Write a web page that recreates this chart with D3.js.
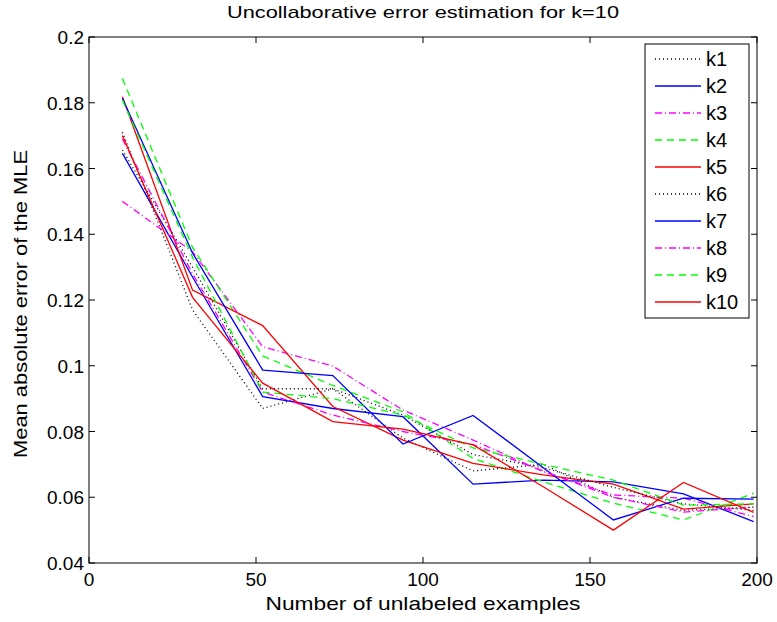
<!doctype html>
<meta charset="utf-8">
<style>
body { margin: 0; background: #fff; font-family: "Liberation Sans", Arial, sans-serif; }
</style>
<script src="https://cdn.jsdelivr.net/npm/d3@7"></script>
<body>
<script>

var w = 777, h = 622;

// number of unlabeled examples
var xs = [10, 31, 52, 73, 94, 115, 136, 157, 178, 199];

var k1  = [0.171, 0.117, 0.087, 0.093, 0.078, 0.068, 0.070, 0.060, 0.056, 0.057];
var k2  = [0.1646, 0.127, 0.0906, 0.087, 0.0845, 0.064, 0.0652, 0.0647, 0.061, 0.0526];
var k3  = [0.150, 0.1347, 0.1058, 0.0999, 0.0865, 0.0774, 0.0678, 0.0607, 0.0597, 0.0541];
var k4  = [0.1874, 0.136, 0.103, 0.094, 0.086, 0.0718, 0.0647, 0.0582, 0.0531, 0.0612];
var k5  = [0.1818, 0.123, 0.1122, 0.0876, 0.0774, 0.0703, 0.0668, 0.064, 0.0564, 0.058];
var k6  = [0.1656, 0.130, 0.093, 0.093, 0.085, 0.073, 0.069, 0.063, 0.058, 0.056];
var k7  = [0.1814, 0.1343, 0.0987, 0.097, 0.0762, 0.0849, 0.069, 0.0531, 0.0597, 0.0594];
var k8  = [0.169, 0.128, 0.092, 0.085, 0.080, 0.076, 0.068, 0.060, 0.0555, 0.057];
var k9  = [0.1808, 0.133, 0.092, 0.090, 0.085, 0.075, 0.070, 0.0652, 0.0576, 0.058];
var k10 = [0.170, 0.1208, 0.0947, 0.083, 0.0807, 0.0759, 0.0632, 0.050, 0.0645, 0.0554];

var names = ["k1", "k2", "k3", "k4", "k5", "k6", "k7", "k8", "k9", "k10"];
var values = [k1, k2, k3, k4, k5, k6, k7, k8, k9, k10];

var xTicks = [0, 50, 100, 150, 200];
var yTicks = [0.04, 0.06, 0.08, 0.1, 0.12, 0.14, 0.16, 0.18, 0.2];

// matlab line styles, cycling
var styles = [
  {c: "#000", d: "1,3"},
  {c: "#00f", d: null},
  {c: "#f0f", d: "7,3,1,3"},
  {c: "#0f0", d: "7,5"},
  {c: "#f00", d: null}
];

// plot box (window.top is taken, so p-prefixed)
var pL = 89, pR = 757, pT = 37, pB = 563;

var x = d3.scaleLinear().domain([0, 200]).range([pL, pR]);
var y = d3.scaleLinear().domain([0.04, 0.2]).range([pB, pT]);

var svg = d3.select("body")
  .append("svg")
    .attr("width", w)
    .attr("height", h)

var line = d3.line()
    .x(function(d, i) { return x(xs[i]); })
    .y(function(d) { return y(d); });

var clip = svg.append("defs").append("clipPath").attr("id", "plot")
clip.append("rect")
    .attr("x", pL).attr("y", pT)
    .attr("width", pR - pL).attr("height", pB - pT);

svg.append("g").attr("clip-path", "url(#plot)")
  .selectAll("path")
  .data(values)
  .enter().append("path")
    .attr("d", line)
    .attr("fill", "none")
    .attr("stroke", function(d, i) { return styles[i % 5].c; })
    .attr("stroke-width", 1.3)
    .attr("stroke-dasharray", function(d, i) { return styles[i % 5].d; });

// axes (ticks inside, on all four sides)
var tl = 6;
var ax = svg.append("g").attr("stroke", "#000").attr("stroke-width", 1);

ax.append("rect")
    .attr("x", pL).attr("y", pT)
    .attr("width", pR - pL).attr("height", pB - pT)
    .attr("fill", "none");

xTicks.forEach(function(t) {
  ax.append("line").attr("x1", x(t)).attr("x2", x(t)).attr("y1", pB).attr("y2", pB - tl);
  ax.append("line").attr("x1", x(t)).attr("x2", x(t)).attr("y1", pT).attr("y2", pT + tl);
});
yTicks.forEach(function(t) {
  ax.append("line").attr("x1", pL).attr("x2", pL + tl).attr("y1", y(t)).attr("y2", y(t));
  ax.append("line").attr("x1", pR).attr("x2", pR - tl).attr("y1", y(t)).attr("y2", y(t));
});

svg.selectAll(".xl")
  .data(xTicks)
  .enter().append("text")
    .attr("x", function(d) { return x(d); })
    .attr("y", pB + 23)
    .attr("text-anchor", "middle")
    .style("font-size", "19px")
    .text(function(d) { return d; });

svg.selectAll(".yl")
  .data(yTicks)
  .enter().append("text")
    .attr("x", pL - 5)
    .attr("y", function(d) { return y(d) + 7; })
    .attr("text-anchor", "end")
    .style("font-size", "19px")
    .text(function(d) { return d; });

// the original's labels run wide, so stretch them to its widths
svg.append("text")
    .attr("x", (pL + pR) / 2)
    .attr("y", 18)
    .attr("text-anchor", "middle")
    .attr("textLength", 392)
    .attr("lengthAdjust", "spacingAndGlyphs")
    .style("font-size", "17px")
    .text("Uncollaborative error estimation for k=10");

svg.append("text")
    .attr("x", (pL + pR) / 2)
    .attr("y", 610)
    .attr("text-anchor", "middle")
    .attr("textLength", 315)
    .attr("lengthAdjust", "spacingAndGlyphs")
    .style("font-size", "19px")
    .text("Number of unlabeled examples");

svg.append("text")
    .attr("transform", "translate(27," + ((pT + pB) / 2 + 4) + ") rotate(-90)")
    .attr("text-anchor", "middle")
    .attr("textLength", 308)
    .attr("lengthAdjust", "spacingAndGlyphs")
    .style("font-size", "19px")
    .text("Mean absolute error of the MLE");

// legend
var lg = svg.append("g");
lg.append("rect")
    .attr("x", 645).attr("y", 44)
    .attr("width", 104).attr("height", 274)
    .attr("fill", "#fff")
    .attr("stroke", "#000");

var rows = lg.selectAll("g")
  .data(names)
  .enter().append("g")
    .attr("transform", function(d, i) { return "translate(0," + (59 + i * 27) + ")"; });

rows.append("line")
    .attr("x1", 655).attr("x2", 701)
    .attr("stroke", function(d, i) { return styles[i % 5].c; })
    .attr("stroke-width", 1.3)
    .attr("stroke-dasharray", function(d, i) { return styles[i % 5].d; });

rows.append("text")
    .attr("x", 706)
    .attr("y", 7)
    .style("font-size", "20px")
    .text(function(d) { return d; });

</script>
